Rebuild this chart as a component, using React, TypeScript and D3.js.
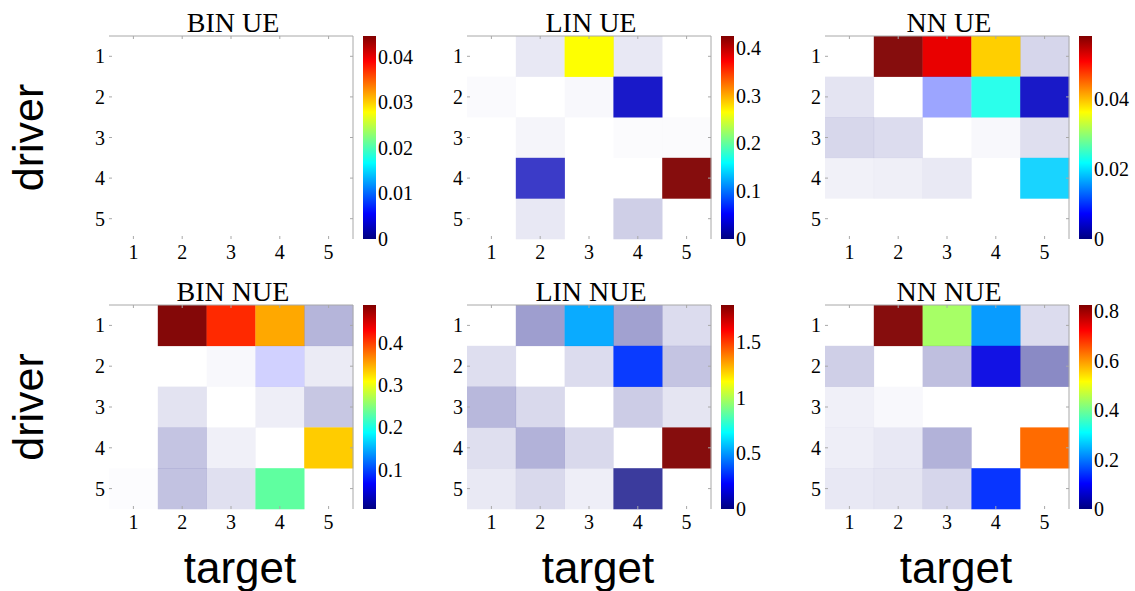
import React from "react";
import * as d3 from "d3";

const ticks5 = ["1", "2", "3", "4", "5"];

// cell values (null = diagonal) and opacity (faded = not significant)
const binUEVal = [
  [null, 0, 0, 0, 0],
  [0, null, 0, 0, 0],
  [0, 0, null, 0, 0],
  [0, 0, 0, null, 0],
  [0, 0, 0, 0, null],
];
const binUEAlpha = [
  [0, 0, 0, 0, 0],
  [0, 0, 0, 0, 0],
  [0, 0, 0, 0, 0],
  [0, 0, 0, 0, 0],
  [0, 0, 0, 0, 0],
];

const linUEVal = [
  [null, 0, 0.265, 0, 0],
  [0, null, 0, 0.028, 0],
  [0, 0, null, 0, 0],
  [0, 0.023, 0, null, 0.425],
  [0, 0, 0, 0, null],
];
const linUEAlpha = [
  [0, 0.09, 1, 0.09, 0],
  [0.02, 0, 0.027, 0.9, 0],
  [0, 0.04, 0, 0.016, 0.016],
  [0, 0.77, 0, 0, 0.95],
  [0, 0.09, 0, 0.19, 0],
];

const nnUEVal = [
  [null, 0.058, 0.052, 0.039, 0],
  [0, null, 0.0086, 0.023, 0.0038],
  [0, 0, null, 0, 0],
  [0, 0, 0, null, 0.019],
  [0, 0, 0, 0, null],
];
const nnUEAlpha = [
  [0, 0.95, 1, 1, 0.16],
  [0.105, 0, 0.39, 0.91, 0.9],
  [0.156, 0.137, 0, 0.027, 0.125],
  [0.055, 0.063, 0.086, 0, 0.9],
  [0, 0, 0, 0, 0],
];

const binNUEVal = [
  [null, 0.49, 0.41, 0.35, 0.007],
  [0.007, null, 0.007, 0.067, 0.007],
  [0.007, 0.007, null, 0.007, 0.007],
  [0.007, 0.007, 0.007, null, 0.333],
  [0.007, 0.007, 0.007, 0.233, null],
];
const binNUEAlpha = [
  [0, 0.97, 1, 1, 0.29],
  [0, 0, 0.027, 0.18, 0.08],
  [0, 0.11, 0, 0.066, 0.22],
  [0, 0.23, 0.06, 0, 1],
  [0.01, 0.24, 0.12, 1, 0],
];

const linNUEVal = [
  [null, 0, 0.53, 0, 0],
  [0, null, 0, 0.32, 0],
  [0, 0, null, 0, 0],
  [0, 0, 0, null, 1.83],
  [0, 0, 0, 0, null],
];
const linNUEAlpha = [
  [0, 0.38, 0.96, 0.37, 0.137],
  [0.13, 0, 0.137, 0.96, 0.23],
  [0.28, 0.15, 0, 0.2, 0.1],
  [0.125, 0.3, 0.15, 0, 0.95],
  [0.085, 0.15, 0.066, 0.77, 0],
];

const nnNUEVal = [
  [null, 0.825, 0.44, 0.227, 0],
  [0, null, 0, 0.08, 0],
  [0, 0, null, 0, 0],
  [0, 0, 0, null, 0.635],
  [0, 0, 0, 0.14, null],
];
const nnNUEAlpha = [
  [0, 0.95, 0.95, 0.97, 0.137],
  [0.19, 0, 0.25, 0.93, 0.46],
  [0.06, 0.027, 0, 0, 0],
  [0.066, 0.09, 0.3, 0, 1],
  [0.09, 0.1, 0.16, 0.97, 0],
];

// colorbar ranges and ticks
const binUEDomain = [0, 0.0446];
const binUETicks = [0, 0.01, 0.02, 0.03, 0.04];
const linUEDomain = [0, 0.425];
const linUETicks = [0, 0.1, 0.2, 0.3, 0.4];
const nnUEDomain = [0, 0.058];
const nnUETicks = [0, 0.02, 0.04];
const binNUEDomain = [0.007, 0.49];
const binNUETicks = [0.1, 0.2, 0.3, 0.4];
const linNUEDomain = [0, 1.83];
const linNUETicks = [0, 0.5, 1, 1.5];
const nnNUEDomain = [0, 0.825];
const nnNUETicks = [0, 0.2, 0.4, 0.6, 0.8];

// matlab jet
const jet = (t: number) => {
  const c = (v: number) => Math.max(0, Math.min(1, v));
  const r = c(1.5 - Math.abs(4 * t - 3));
  const g = c(1.5 - Math.abs(4 * t - 2));
  const b = c(1.5 - Math.abs(4 * t - 1));
  return d3.rgb(r * 255, g * 255, b * 255).formatHex();
};

const serif = "'Liberation Serif', 'Times New Roman', serif";
const sans = "'Liberation Sans', Arial, sans-serif";

const Heatmap = ({ id, title, x0, y0, w, h, values, alpha, domain, cbTicks }) => {
  const xs = d3.scaleBand().domain(ticks5).range([x0, x0 + w]);
  const ys = d3.scaleBand().domain(ticks5).range([y0, y0 + h]);
  const color = d3.scaleSequential(jet).domain(domain);
  const cbX = x0 + w + 10;
  const cbW = 13;
  const cbY = d3.scaleLinear().domain(domain).range([y0 + h, y0]);
  const stops = d3.range(0, 1.0001, 0.125);
  const grey = "#a8a8a8";
  const tl = 3;

  return (
    <g>
      <defs>
        <linearGradient id={id} x1="0" y1="1" x2="0" y2="0">
          {stops.map(s => <stop key={s} offset={s} stopColor={jet(s)} />)}
        </linearGradient>
      </defs>
      <text x={x0 + w / 2 + 2} y={y0 - 4} textAnchor="middle" fontFamily={serif} fontSize={28}>{title}</text>
      {values.map((row, i) => row.map((v, j) => v === null || alpha[i][j] === 0 ? null : (
        <rect key={`${i}-${j}`} x={xs(ticks5[j])} y={ys(ticks5[i])}
          width={xs.bandwidth() + 0.3} height={ys.bandwidth() + 0.3}
          fill={color(v)} fillOpacity={alpha[i][j]} />
      )))}
      <line x1={x0} x2={x0 + w} y1={y0} y2={y0} stroke={grey} strokeWidth={1} />
      <line x1={x0 + w} x2={x0 + w} y1={y0} y2={y0 + h} stroke={grey} strokeWidth={1} />
      {ticks5.map(t => {
        const cx = xs(t) + xs.bandwidth() / 2;
        const cy = ys(t) + ys.bandwidth() / 2;
        return (
          <g key={t} stroke={grey} strokeWidth={1}>
            <line x1={cx} x2={cx} y1={y0} y2={y0 + tl} />
            <line x1={cx} x2={cx} y1={y0 + h} y2={y0 + h - tl} />
            <line x1={x0} x2={x0 + tl} y1={cy} y2={cy} />
            <line x1={x0 + w} x2={x0 + w - tl} y1={cy} y2={cy} />
          </g>
        );
      })}
      {ticks5.map(t => (
        <text key={"c" + t} x={xs(t) + xs.bandwidth() / 2} y={y0 + h + 20} textAnchor="middle"
          fontFamily={serif} fontSize={20}>{t}</text>
      ))}
      {ticks5.map(t => (
        <text key={"r" + t} x={x0 - 4} y={ys(t) + ys.bandwidth() / 2} textAnchor="end" dominantBaseline="central"
          fontFamily={serif} fontSize={20}>{t}</text>
      ))}
      <rect x={cbX} y={y0} width={cbW} height={h} fill={`url(#${id})`} />
      {cbTicks.map(t => (
        <text key={"t" + t} x={cbX + cbW + 2} y={cbY(t)} dominantBaseline="central"
          fontFamily={serif} fontSize={20}>{String(t)}</text>
      ))}
    </g>
  );
};

const colX = [109, 467, 825];
const rowY = [36, 305];
const W = 244;
const H = [203, 204];

export default function App() {
  return (
    <svg width={1135} height={591} style={{ position: "absolute", left: 0, top: 0, background: "#fff" }}>
      <rect width={1135} height={591} fill="#fff" />
      <Heatmap id="g1" title="BIN UE" x0={colX[0]} y0={rowY[0]} w={W} h={H[0]} values={binUEVal} alpha={binUEAlpha} domain={binUEDomain} cbTicks={binUETicks} />
      <Heatmap id="g2" title="LIN UE" x0={colX[1]} y0={rowY[0]} w={W} h={H[0]} values={linUEVal} alpha={linUEAlpha} domain={linUEDomain} cbTicks={linUETicks} />
      <Heatmap id="g3" title="NN UE" x0={colX[2]} y0={rowY[0]} w={W} h={H[0]} values={nnUEVal} alpha={nnUEAlpha} domain={nnUEDomain} cbTicks={nnUETicks} />
      <Heatmap id="g4" title="BIN NUE" x0={colX[0]} y0={rowY[1]} w={W} h={H[1]} values={binNUEVal} alpha={binNUEAlpha} domain={binNUEDomain} cbTicks={binNUETicks} />
      <Heatmap id="g5" title="LIN NUE" x0={colX[1]} y0={rowY[1]} w={W} h={H[1]} values={linNUEVal} alpha={linNUEAlpha} domain={linNUEDomain} cbTicks={linNUETicks} />
      <Heatmap id="g6" title="NN NUE" x0={colX[2]} y0={rowY[1]} w={W} h={H[1]} values={nnNUEVal} alpha={nnNUEAlpha} domain={nnNUEDomain} cbTicks={nnNUETicks} />
      {rowY.map((y, i) => (
        <text key={"d" + i} transform={`translate(43, ${y + H[i] / 2}) rotate(-90)`} textAnchor="middle"
          fontFamily={sans} fontSize={43}>driver</text>
      ))}
      {colX.map((x, i) => (
        <text key={"tg" + i} x={x + W / 2 + 9} y={583} textAnchor="middle" fontFamily={sans} fontSize={44}>target</text>
      ))}
    </svg>
  );
}
